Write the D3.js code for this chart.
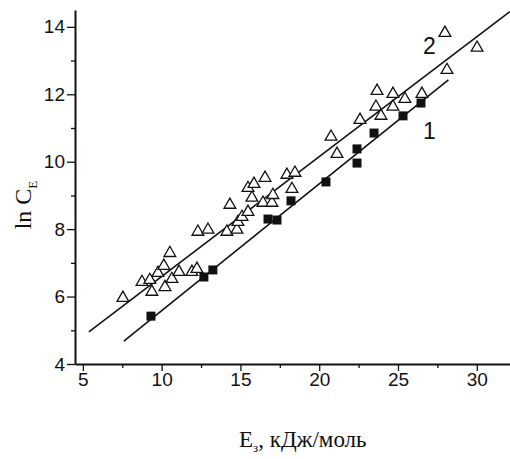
<!DOCTYPE html>
<html>
<head>
<meta charset="utf-8">
<script src="https://cdn.jsdelivr.net/npm/d3@7"></script>
<style>
  body { margin: 0; background: #fff; }
  svg { display: block; }
</style>
</head>
<body>
<div id="chart"></div>
<script>
// series 1 (filled squares)
let sqX = [9.32, 12.68, 13.25, 16.75, 17.32, 18.21, 20.43, 22.40, 22.40, 23.48, 25.32, 26.46];
let sqY = [5.42, 6.58, 6.79, 8.30, 8.27, 8.84, 9.40, 9.96, 10.38, 10.85, 11.36, 11.74];

// series 2 (open triangles)
let triX = [7.54, 8.75, 9.25, 9.38, 9.76, 10.14, 10.52, 10.21, 10.65, 11.10, 11.92, 12.24,
  12.30, 12.94, 14.14, 14.33, 14.78, 14.84, 15.10, 15.48, 15.73, 15.48, 15.86, 16.56,
  16.43, 17.00, 17.06, 17.95, 18.46, 18.27, 20.75, 21.13, 22.59, 23.67, 23.60, 23.92,
  24.68, 24.68, 25.44, 26.52, 28.11, 30.02, 27.98];
let triY = [5.96, 6.43, 6.49, 6.14, 6.70, 6.91, 7.29, 6.28, 6.52, 6.73, 6.73, 6.82,
  7.92, 7.98, 7.92, 8.72, 7.98, 8.21, 8.36, 8.51, 8.93, 9.22, 9.34, 9.52,
  8.78, 8.78, 9.01, 9.61, 9.67, 9.19, 10.74, 10.23, 11.24, 12.10, 11.63, 11.36,
  12.01, 11.63, 11.86, 12.01, 12.72, 13.38, 13.82];

// fitted lines (end points)
let fit1X = [7.6, 28.2];
let fit1Y = [4.68, 12.43];
let fit2X = [5.38, 32.1];
let fit2Y = [4.95, 14.45];

let xTicks = [5, 10, 15, 20, 25, 30];
let xMinor = [7.5, 12.5, 17.5, 22.5, 27.5];
let yTicks = [4, 6, 8, 10, 12, 14];
let yMinor = [5, 7, 9, 11, 13];

let W = 510, H = 459;
let margin = {top: 10, right: 0, bottom: 95, left: 75};
let width = W - margin.left - margin.right,
  height = H - margin.top - margin.bottom;

let svg = d3.select('#chart').append('svg')
  .attr('width', W)
  .attr('height', H);

let g = svg.append('g')
  .attr('transform', 'translate(' + margin.left + ',' + margin.top + ')');

let x = d3.scaleLinear().domain([4.5, 32.11]).range([0, width]);
let y = d3.scaleLinear().domain([4, 14.5]).range([height, 0]);

let ink = '#111';

// fit lines
let line = d3.line()
  .x(d => x(d[0]))
  .y(d => y(d[1]));

[[fit2X, fit2Y], [fit1X, fit1Y]].forEach(function(f) {
  g.append('path')
    .datum(d3.zip(f[0], f[1]))
    .attr('fill', 'none')
    .attr('stroke', ink)
    .attr('stroke-width', 1.6)
    .attr('d', line);
});

// triangles
let tri = d3.symbol().type(d3.symbolTriangle).size(60);
g.selectAll('.tri')
  .data(d3.zip(triX, triY))
  .enter().append('path')
  .attr('class', 'tri')
  .attr('transform', d => 'translate(' + x(d[0]) + ',' + y(d[1]) + ')')
  .attr('d', tri)
  .attr('fill', '#fff')
  .attr('stroke', ink)
  .attr('stroke-width', 1.3);

// squares
let sq = d3.symbol().type(d3.symbolSquare).size(81);
g.selectAll('.sq')
  .data(d3.zip(sqX, sqY))
  .enter().append('path')
  .attr('class', 'sq')
  .attr('transform', d => 'translate(' + x(d[0]) + ',' + y(d[1]) + ')')
  .attr('d', sq)
  .attr('fill', ink);

// axes
g.append('g')
  .attr('transform', 'translate(0,' + height + ')')
  .call(d3.axisBottom(x).tickValues(xTicks).tickSize(7).tickSizeOuter(0).tickPadding(2));
g.append('g')
  .call(d3.axisLeft(y).tickValues(yTicks).tickSize(8).tickSizeOuter(0).tickPadding(2));

g.append('g')
  .attr('transform', 'translate(0,' + height + ')')
  .call(d3.axisBottom(x).tickValues(xMinor).tickSize(4).tickSizeOuter(0).tickFormat(''))
  .select('.domain').remove();
g.append('g')
  .call(d3.axisLeft(y).tickValues(yMinor).tickSize(4).tickSizeOuter(0).tickFormat(''))
  .select('.domain').remove();

g.selectAll('.domain').attr('stroke', ink).attr('stroke-width', 2);
g.selectAll('.tick line').attr('stroke', ink).attr('stroke-width', 1.3);
g.selectAll('.tick text')
  .attr('fill', ink)
  .style('font-family', '"Liberation Sans", Arial, sans-serif')
  .style('font-size', '19px');

// curve labels
let labelFont = '"Liberation Sans", Arial, sans-serif';
g.append('text')
  .attr('x', x(27.0)).attr('y', y(13.2))
  .attr('text-anchor', 'middle')
  .style('font-family', labelFont)
  .style('font-size', '23px')
  .attr('fill', ink)
  .text('2');
g.append('text')
  .attr('x', x(27.0)).attr('y', y(10.66))
  .attr('text-anchor', 'middle')
  .style('font-family', labelFont)
  .style('font-size', '23px')
  .attr('fill', ink)
  .text('1');

// axis titles
let serif = '"Liberation Serif", "Times New Roman", serif';
let xt = svg.append('text')
  .attr('x', 239).attr('y', 447)
  .style('font-family', serif)
  .style('font-size', '23px')
  .attr('fill', ink);
xt.append('tspan').text('E');
xt.append('tspan').attr('dy', 5).style('font-size', '13px').text('з');
xt.append('tspan').attr('dy', -5).text(', кДж/моль');

let yt = svg.append('text')
  .attr('transform', 'translate(31,' + 205 + ') rotate(-90)')
  .attr('text-anchor', 'middle')
  .style('font-family', serif)
  .style('font-size', '24px')
  .attr('fill', ink);
yt.append('tspan').text('ln C');
yt.append('tspan').attr('dy', 6).style('font-size', '13px').text('E');
</script>
</body>
</html>
